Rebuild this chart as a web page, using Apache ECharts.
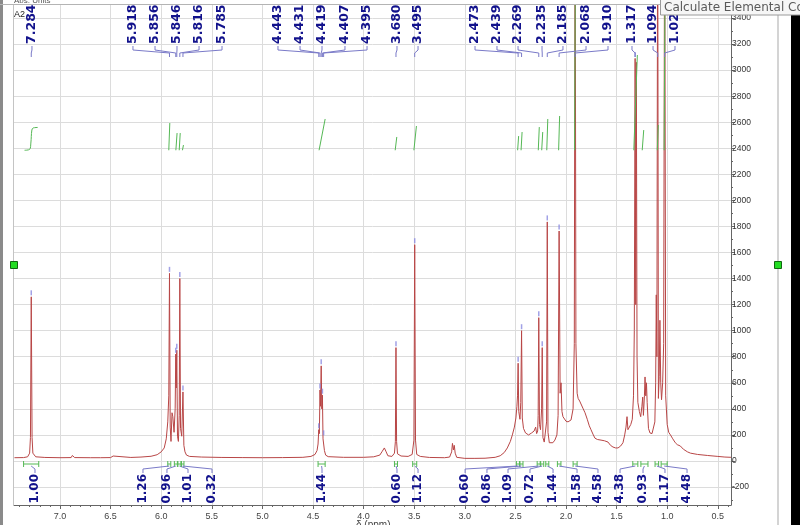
<!DOCTYPE html>
<html><head><meta charset="utf-8">
<script src="https://cdn.jsdelivr.net/npm/echarts@6/dist/echarts.min.js"></script>
<style>html,body{margin:0;padding:0;background:#fff;overflow:hidden}#c{width:800px;height:525px}</style>
</head><body><div id="c"></div>
<script>
// ---- axis ticks ----
const xTicks = [7.0, 6.5, 6.0, 5.5, 5.0, 4.5, 4.0, 3.5, 3.0, 2.5, 2.0, 1.5, 1.0, 0.5];
const yTicks = [-200, 0, 200, 400, 600, 800, 1000, 1200, 1400, 1600, 1800, 2000, 2200, 2400, 2600, 2800, 3000, 3200, 3400];

// ---- spectrum (ppm, intensity) ----
const spectrum = [
[7.45,25],[7.36,26],[7.32,32],[7.30,60],[7.292,180],[7.284,1260],[7.276,180],[7.268,60],[7.24,32],[7.15,27],[7.0,25],
[6.89,26],[6.878,42],[6.872,28],[6.864,40],[6.855,26],[6.7,25],[6.6,25],[6.5,26],[6.488,40],[6.482,28],[6.475,38],[6.465,26],
[6.3,27],[6.2,30],[6.1,36],[6.04,48],[6.0,70],[5.97,100],[5.95,170],[5.935,300],[5.925,500],[5.918,1440],[5.911,260],[5.903,150],
[5.893,370],[5.885,340],[5.873,220],[5.862,400],[5.856,820],[5.851,560],[5.846,850],[5.839,190],[5.83,150],[5.822,350],[5.816,1400],
[5.809,250],[5.797,190],[5.785,530],[5.776,120],[5.765,70],[5.75,45],[5.72,35],[5.6,30],[5.4,27],[5.2,26],[5.0,25],[4.8,26],[4.6,28],
[4.52,35],[4.48,50],[4.46,80],[4.45,130],[4.443,240],[4.437,210],[4.431,545],[4.426,420],[4.419,730],[4.413,400],[4.407,505],
[4.401,170],[4.395,185],[4.387,80],[4.375,45],[4.35,33],[4.2,28],[4.0,28],[3.9,32],[3.84,45],[3.815,75],[3.795,100],[3.78,75],
[3.76,40],[3.72,35],[3.695,60],[3.686,150],[3.680,870],[3.674,150],[3.665,55],[3.63,38],[3.56,35],[3.52,50],[3.503,160],[3.495,1660],
[3.487,160],[3.475,50],[3.44,35],[3.35,27],[3.2,25],[3.15,30],[3.13,70],[3.122,135],[3.112,85],[3.104,120],[3.095,60],[3.08,28],
[3.0,20],[2.9,20],[2.8,21],[2.7,28],[2.65,40],[2.61,65],[2.58,100],[2.55,150],[2.53,200],[2.51,260],[2.495,330],[2.485,420],
[2.479,500],[2.473,750],[2.467,380],[2.455,320],[2.447,450],[2.439,1000],[2.432,330],[2.42,250],[2.40,215],[2.37,200],[2.34,215],
[2.315,230],[2.30,260],[2.29,210],[2.28,230],[2.275,350],[2.269,1100],[2.262,280],[2.252,240],[2.241,400],[2.235,870],[2.228,180],
[2.215,145],[2.20,160],[2.192,300],[2.185,1835],[2.178,220],[2.165,140],[2.15,135],[2.13,140],[2.11,160],[2.09,200],[2.078,350],
[2.068,1765],[2.058,520],[2.049,600],[2.04,380],[2.03,340],[2.0,305],[1.98,300],[1.95,315],[1.93,400],[1.918,900],[1.910,4500],
[1.902,900],[1.89,520],[1.88,480],[1.865,460],[1.852,445],[1.83,400],[1.812,370],[1.79,320],[1.77,270],[1.753,240],[1.73,200],
[1.714,175],[1.69,165],[1.654,160],[1.62,155],[1.585,145],[1.56,120],[1.536,107],[1.51,100],[1.486,100],[1.46,115],[1.437,140],
[1.42,200],[1.407,260],[1.397,340],[1.388,240],[1.377,240],[1.36,280],[1.345,320],[1.333,500],[1.325,1000],[1.317,3090],[1.311,1200],
[1.305,3060],[1.298,800],[1.29,450],[1.275,380],[1.262,340],[1.25,420],[1.242,490],[1.235,350],[1.225,500],[1.219,645],[1.212,500],
[1.205,600],[1.198,450],[1.185,250],[1.17,215],[1.15,210],[1.135,215],[1.122,300],[1.114,600],[1.108,1275],[1.102,800],[1.094,4500],
[1.087,480],[1.079,650],[1.072,1080],[1.064,600],[1.056,470],[1.045,600],[1.035,900],[1.025,4500],[1.015,500],[1.0,280],[0.985,220],
[0.968,200],[0.945,170],[0.92,140],[0.90,125],[0.885,140],[0.87,115],[0.84,90],[0.80,70],[0.77,60],[0.7,50],[0.6,42],[0.5,35],
[0.43,30],[0.37,28]
];

// ---- peak picking ----
const peakPpm = [7.284,5.918,5.856,5.846,5.816,5.785,4.443,4.431,4.419,4.407,4.395,3.680,3.495,2.473,2.439,2.269,2.235,2.185,2.068,1.910,1.317,1.094,1.025];
const peakText = ['7.284','5.918','5.856','5.846','5.816','5.785','4.443','4.431','4.419','4.407','4.395','3.680','3.495','2.473','2.439','2.269','2.235','2.185','2.068','1.910','1.317','1.094','1.025'];
const peakHeight = [1260,1440,820,850,1400,530,240,545,730,505,185,870,1660,750,1000,1100,870,1835,1765,4500,3090,4500,4500];
const peakLabelAt = [7.277,6.279,6.061,5.844,5.626,5.399,4.846,4.628,4.411,4.184,3.966,3.670,3.462,2.899,2.682,2.474,2.237,2.030,1.802,1.585,1.348,1.140,0.923];

// ---- integrals ----
const intText = ['1.00','1.26','0.96','1.01','0.32','1.44','0.60','1.12','0.60','0.86','1.09','0.72','1.44','1.58','4.58','4.38','0.93','1.17','4.48'];
const intFrom = [7.36,5.935,5.87,5.835,5.80,4.45,3.695,3.515,2.49,2.455,2.285,2.25,2.20,2.085,1.93,1.34,1.26,1.12,1.06];
const intTo   = [7.21,5.905,5.84,5.805,5.775,4.38,3.665,3.475,2.46,2.425,2.255,2.22,2.17,2.05,1.89,1.29,1.19,1.085,1.00];
const intLabelAt = [7.247,6.180,5.943,5.735,5.498,4.411,3.670,3.462,2.997,2.781,2.573,2.356,2.128,1.891,1.684,1.466,1.239,1.022,0.804];
const intCurves = [
  [[7.35,2385],[7.30,2392],[7.288,2440],[7.278,2540],[7.265,2556],[7.22,2560]],
  [[5.925,2385],[5.915,2594]],
  [[5.855,2385],[5.843,2517]],
  [[5.822,2385],[5.812,2517]],
  [[5.79,2385],[5.78,2425]],
  [[4.44,2385],[4.38,2625]],
  [[3.688,2385],[3.672,2487]],
  [[3.503,2385],[3.478,2571]],
  [[2.478,2385],[2.468,2494]],
  [[2.444,2385],[2.434,2525]],
  [[2.274,2385],[2.264,2563]],
  [[2.240,2385],[2.230,2525]],
  [[2.190,2385],[2.180,2625]],
  [[2.073,2385],[2.063,2648]],
  [[1.915,2385],[1.905,4300]],
  [[1.33,2385],[1.295,3116]],
  [[1.247,2385],[1.232,2540]],
  [[1.098,2385],[1.088,2579]],
  [[1.030,2385],[1.018,4300]]
];

const xMin = 0.3696, xMax = 7.4545, yMin = -338, yMax = 3500;
const xMinor = [], yMinor = [];
for (let i = 4; i <= 74; i++) { if (i % 5 !== 0) xMinor.push(i / 10); }
for (let v = -300; v <= 3500; v += 200) yMinor.push(v);

const blue = '#12128c', leader = '#7a7ac8', green = '#55b855';
const peakFont = 'bold 12.5px "DejaVu Sans"';
const intFont = 'bold 12px "DejaVu Sans"';

const series = [];
series.push({
  type: 'line', data: spectrum, showSymbol: false, symbol: 'none', clip: true,
  lineStyle: { color: '#b84646', width: 1 }, z: 3, animation: false
});
intCurves.forEach((c, i) => {
  series.push({ type: 'line', data: c, showSymbol: false, symbol: 'none', clip: true, smooth: i === 0 ? 0.4 : false,
    lineStyle: { color: green, width: 1 }, z: 4, animation: false });
});
series.push({
  type: 'scatter', data: peakPpm.map((p, i) => [p, peakHeight[i]]), symbol: 'rect', symbolSize: [1.5, 5],
  symbolOffset: [0, -4], itemStyle: { color: '#8a8ae0' }, z: 5, clip: true, animation: false, silent: true
});
series.push({
  type: 'custom', coordinateSystem: 'cartesian2d', data: peakPpm.map((p, i) => [p, peakLabelAt[i], 0]),
  encode: { x: 0, y: 2 }, z: 6, animation: false, silent: true,
  renderItem: (params, api) => {
    const p = api.coord([api.value(0), 0])[0];
    const l = api.coord([api.value(1), 0])[0];
    return { type: 'group', children: [
      { type: 'text', x: l, y: 44, rotation: Math.PI / 2,
        style: { text: peakText[params.dataIndex], font: peakFont, fill: blue, align: 'left', verticalAlign: 'middle' } },
      { type: 'polyline', shape: { points: [[l, 46], [l, 50], [p, 53], [p, 57]] },
        style: { stroke: leader, lineWidth: 1, fill: null } }
    ] };
  }
});
series.push({
  type: 'custom', coordinateSystem: 'cartesian2d', data: intFrom.map((f, i) => [f, intTo[i], intLabelAt[i], 0]),
  encode: { x: 0, y: 3 }, z: 6, animation: false, silent: true,
  renderItem: (params, api) => {
    const a = api.coord([api.value(0), 0])[0];
    const b = api.coord([api.value(1), 0])[0];
    const l = api.coord([api.value(2), 0])[0];
    const c = (a + b) / 2;
    return { type: 'group', children: [
      { type: 'polyline', shape: { points: [[a, 461], [a, 467]] }, style: { stroke: green, lineWidth: 1, fill: null } },
      { type: 'polyline', shape: { points: [[b, 461], [b, 467]] }, style: { stroke: green, lineWidth: 1, fill: null } },
      { type: 'polyline', shape: { points: [[a, 464], [b, 464]] }, style: { stroke: green, lineWidth: 1, fill: null } },
      { type: 'polyline', shape: { points: [[c, 466], [l, 469], [l, 473]] }, style: { stroke: leader, lineWidth: 1, fill: null } },
      { type: 'text', x: l, y: 474, rotation: Math.PI / 2,
        style: { text: intText[params.dataIndex], font: intFont, fill: blue, align: 'right', verticalAlign: 'middle' } }
    ] };
  }
});

const axisCol = '#666';
const option = {
  animation: false,
  backgroundColor: '#fff',
  grid: { left: 14, right: 69, top: 5, bottom: 20, show: false },
  xAxis: [{
    type: 'value', inverse: true, min: xMin, max: xMax, position: 'bottom',
    axisLine: { show: true, onZero: false, lineStyle: { color: axisCol } },
    axisTick: { show: true, customValues: xTicks, length: 4, lineStyle: { color: axisCol } },
    axisLabel: { customValues: xTicks, formatter: v => v.toFixed(1), color: '#444', fontSize: 9, margin: 7, fontFamily: 'Liberation Sans' },
    splitLine: { show: true, lineStyle: { color: '#dcdcdc', width: 1 } }
  }, {
    type: 'value', inverse: true, min: xMin, max: xMax, position: 'bottom',
    axisLine: { show: false, onZero: false },
    axisTick: { show: true, customValues: xMinor, length: 2, lineStyle: { color: axisCol } },
    axisLabel: { show: false }, splitLine: { show: false }
  }],
  yAxis: [{
    type: 'value', position: 'right', min: yMin, max: yMax,
    axisLine: { show: true, lineStyle: { color: axisCol } },
    axisTick: { show: true, customValues: yTicks, length: 4, lineStyle: { color: axisCol } },
    axisLabel: { customValues: yTicks, formatter: v => String(Math.round(v)), color: '#333', fontSize: 8.5, margin: 1, fontFamily: 'Liberation Sans' },
    splitLine: { show: true, lineStyle: { color: '#dcdcdc', width: 1 } }
  }, {
    type: 'value', position: 'right', min: yMin, max: yMax,
    axisLine: { show: false },
    axisTick: { show: true, customValues: yMinor, length: 2, lineStyle: { color: axisCol } },
    axisLabel: { show: false }, splitLine: { show: false }
  }],
  series: series,
  graphic: [
    { type: 'rect', shape: { x: 0, y: 0, width: 3, height: 525 }, style: { fill: '#8a8a8a' }, z: 50 },
    { type: 'line', shape: { x1: 0, y1: 4.5, x2: 800, y2: 4.5 }, style: { stroke: '#b4b4b4', lineWidth: 1 }, z: 50 },
    { type: 'line', shape: { x1: 13.5, y1: 5, x2: 13.5, y2: 505 }, style: { stroke: '#c4c4c4', lineWidth: 1 }, z: 50 },
    { type: 'text', x: 14, y: -3, style: { text: 'Abs. Units', font: '8px "Liberation Sans"', fill: '#555' }, z: 50 },
    { type: 'text', x: 14, y: 10, style: { text: 'A2', font: '9px "Liberation Sans"', fill: '#222' }, z: 50 },
    { type: 'rect', shape: { x: 10.5, y: 261.5, width: 7, height: 7 }, style: { fill: '#22dd22', stroke: '#116611', lineWidth: 1 }, z: 50 },
    { type: 'line', shape: { x1: 778, y1: 0, x2: 778, y2: 525 }, style: { stroke: '#d4d4d4', lineWidth: 2 }, z: 40 },
    { type: 'rect', shape: { x: 774.5, y: 261.5, width: 7, height: 7 }, style: { fill: '#22dd22', stroke: '#116611', lineWidth: 1 }, z: 50 },
    { type: 'rect', shape: { x: 791, y: 15, width: 9, height: 510 }, style: { fill: '#000' }, z: 50 },
    { type: 'text', x: 356, y: 520, style: { text: 'δ (ppm)', font: '10px "Liberation Sans"', fill: '#444' }, z: 50 },
    { type: 'rect', shape: { x: 660.5, y: -1, width: 141, height: 16 }, style: { fill: '#f6f6f6', stroke: '#9a9a9a', lineWidth: 1 }, z: 100 },
    { type: 'text', x: 664, y: 7.5, style: { text: 'Calculate Elemental Com', font: '12px "DejaVu Sans"', fill: '#5a5a5a', verticalAlign: 'middle' }, z: 101 }
  ]
};
const chart = echarts.init(document.getElementById('c'));
chart.setOption(option);
</script>
</body></html>
